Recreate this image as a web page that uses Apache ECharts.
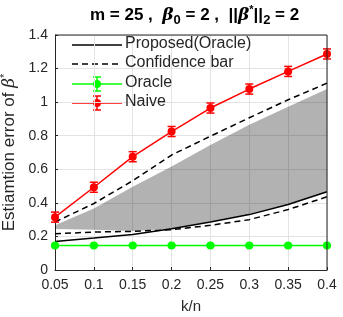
<!DOCTYPE html>
<html><head><meta charset="utf-8">
<script src="https://cdn.jsdelivr.net/npm/echarts@6/dist/echarts.min.js"></script>
<style>html,body{margin:0;padding:0;background:#fff}#c{width:343px;height:317px}</style>
</head><body><div id="c"></div>
<script>
var kn = [0.05, 0.1, 0.15, 0.2, 0.25, 0.3, 0.35, 0.4];
var naive = [0.315, 0.493, 0.675, 0.825, 0.965, 1.078, 1.183, 1.287];
var naiveErr = [0.03, 0.03, 0.03, 0.03, 0.03, 0.03, 0.03, 0.03];
var oracle = [0.146, 0.146, 0.146, 0.146, 0.146, 0.146, 0.146, 0.146];
var oracleErr = [0.005, 0.005, 0.005, 0.005, 0.005, 0.005, 0.005, 0.005];
var proposed = [0.17, 0.19, 0.212, 0.246, 0.286, 0.33, 0.39, 0.466];
var confLow = [0.216, 0.226, 0.23, 0.24, 0.266, 0.3, 0.36, 0.436];
var confHigh = [0.286, 0.396, 0.532, 0.685, 0.797, 0.907, 1.014, 1.113];
var bandLow = [0.244, 0.24, 0.232, 0.246, 0.286, 0.33, 0.39, 0.466];
var bandHigh = [0.266, 0.366, 0.496, 0.616, 0.745, 0.865, 0.972, 1.078];
var legendNames = ['Proposed(Oracle)', 'Confidence bar', 'Oracle', 'Naive'];

function pairs(ys){ return kn.map(function(x,i){ return [x, ys[i]]; }); }
function errData(ys, es){ return kn.map(function(x,i){ return [x, ys[i]-es[i], ys[i]+es[i]]; }); }
function errSeries(ys, es, color){
  return {
    type: 'custom', z: 5,
    data: errData(ys, es),
    renderItem: function(params, api){
      var x = api.value(0);
      var p1 = api.coord([x, api.value(1)]);
      var p2 = api.coord([x, api.value(2)]);
      var w = 4;
      var st = {stroke: color, lineWidth: 1.5};
      return {type: 'group', children: [
        {type: 'line', shape: {x1: p1[0], y1: p1[1], x2: p2[0], y2: p2[1]}, style: st},
        {type: 'line', shape: {x1: p1[0]-w, y1: p1[1], x2: p1[0]+w, y2: p1[1]}, style: st},
        {type: 'line', shape: {x1: p2[0]-w, y1: p2[1], x2: p2[0]+w, y2: p2[1]}, style: st}
      ]};
    }
  };
}

var chart = echarts.init(document.getElementById('c'));
var txt = '#262626';
var legendY = [45, 64, 84, 103];

function legendGroup(y, kind, color){
  var ch = [];
  var x1 = 72, x2 = 122, xm = 97;
  if (kind === 'solid') ch.push({type:'line', shape:{x1:x1,y1:y,x2:x2,y2:y}, style:{stroke:'#000', lineWidth:1.5}});
  if (kind === 'dash') ch.push({type:'line', shape:{x1:x1,y1:y,x2:x2,y2:y}, style:{stroke:'#000', lineWidth:1.5, lineDash:[6,4]}});
  if (kind === 'err') {
    ch.push({type:'line', shape:{x1:x1,y1:y,x2:x2,y2:y}, style:{stroke:color, lineWidth:1.5}});
    ch.push({type:'line', shape:{x1:xm,y1:y-7,x2:xm,y2:y+7}, style:{stroke:color, lineWidth:1.5}});
    ch.push({type:'line', shape:{x1:xm-4,y1:y-7,x2:xm+4,y2:y-7}, style:{stroke:color, lineWidth:1.5}});
    ch.push({type:'line', shape:{x1:xm-4,y1:y+7,x2:xm+4,y2:y+7}, style:{stroke:color, lineWidth:1.5}});
    ch.push({type:'circle', shape:{cx:xm, cy:y, r:4}, style:{fill:color}});
  }
  return ch;
}

var graphics = [].concat(
  legendGroup(legendY[0], 'solid', '#000'),
  legendGroup(legendY[1], 'dash', '#000'),
  legendGroup(legendY[2], 'err', '#00ff00'),
  legendGroup(legendY[3], 'err', '#ff0000')
);

var titles = [{
  text: '{b|m = 25 ,  }{i|β}{sub|0}{b| = 2 ,  ||}{i|β}{sup|*}{b|||}{sub|2}{b| = 2}',
  left: 90, top: 4, padding: 0,
  textStyle: {
    fontSize: 17,
    rich: {
      b: {fontSize: 17, fontWeight: 'bold', color: '#000', fontFamily: 'Liberation Sans'},
      i: {fontSize: 17, fontStyle: 'italic', color: '#000', fontFamily: 'DejaVu Serif'},
      sub: {fontSize: 13, fontWeight: 'bold', color: '#000', fontFamily: 'Liberation Sans', verticalAlign: 'bottom', padding: [10, 0, 0, 0]},
      sup: {fontSize: 11, fontWeight: 'bold', color: '#000', fontFamily: 'Liberation Sans', verticalAlign: 'top', padding: [0, 0, 9, 0]}
    }
  }
}].concat(legendNames.map(function(n, i){
  return {text: n, left: 125, top: legendY[i] - 9, padding: 0,
    textStyle: {fontSize: 16, fontWeight: 'normal', color: txt, fontFamily: 'Liberation Sans'}};
}));

var option = {
  animation: false,
  backgroundColor: '#fff',
  title: titles,
  grid: {left: 55, right: 16, top: 35, bottom: 47, containLabel: false, outerBoundsMode: 'none'},
  xAxis: {
    type: 'value', min: 0.05, max: 0.4, interval: 0.05,
    name: 'k/n', nameLocation: 'middle', nameGap: 29,
    nameTextStyle: {fontSize: 15, color: txt, fontFamily: 'Liberation Sans'},
    axisLine: {show: true, onZero: false, lineStyle: {color: '#262626', width: 1}},
    axisTick: {show: true, inside: true, length: 3, lineStyle: {color: '#262626'}},
    axisLabel: {fontSize: 14, color: txt, fontFamily: 'Liberation Sans', margin: 8,
      formatter: function(v){ return String(parseFloat(v.toFixed(2))); }},
    splitLine: {show: true, lineStyle: {color: '#e3e3e3', width: 1}}
  },
  yAxis: {
    type: 'value', min: 0, max: 1.4, interval: 0.2,
    name: '{t|Estiamtion error of }{i|β}{s|*}', nameLocation: 'middle', nameGap: 22,
    nameTextStyle: {
      fontSize: 17,
      rich: {
        t: {fontSize: 17, color: txt, fontFamily: 'Liberation Sans'},
        i: {fontSize: 17, fontStyle: 'italic', color: txt, fontFamily: 'DejaVu Serif'},
        s: {fontSize: 11, color: txt, fontFamily: 'Liberation Sans', verticalAlign: 'top', padding: [0, 0, 9, 0]}
      }
    },
    axisLine: {show: true, lineStyle: {color: '#262626', width: 1}},
    axisTick: {show: true, inside: true, length: 3, lineStyle: {color: '#262626'}},
    axisLabel: {fontSize: 14, color: txt, fontFamily: 'Liberation Sans', margin: 7,
      formatter: function(v){ return String(parseFloat(v.toFixed(1))); }},
    splitLine: {show: true, lineStyle: {color: '#e3e3e3', width: 1}}
  },
  graphic: graphics.concat([
    {type: 'line', shape: {x1: 55, y1: 35, x2: 327, y2: 35}, style: {stroke: '#262626', lineWidth: 1}, z: 10},
    {type: 'line', shape: {x1: 327, y1: 35, x2: 327, y2: 270}, style: {stroke: '#262626', lineWidth: 1}, z: 10}
  ]),
  series: [
    {
      type: 'custom', z: 1, silent: true,
      data: [[0]],
      renderItem: function(params, api){
        var pts = [];
        for (var i = 0; i < kn.length; i++) pts.push(api.coord([kn[i], bandHigh[i]]));
        for (var j = kn.length - 1; j >= 0; j--) pts.push(api.coord([kn[j], bandLow[j]]));
        return {type: 'polygon', shape: {points: pts}, style: {fill: 'rgba(0,0,0,0.3)'}};
      }
    },
    {type: 'line', data: pairs(confLow), symbol: 'none', lineStyle: {color: '#000', width: 1.5, type: [6, 4]}, z: 3},
    {type: 'line', data: pairs(confHigh), symbol: 'none', lineStyle: {color: '#000', width: 1.5, type: [6, 4]}, z: 3},
    {type: 'line', data: pairs(proposed), symbol: 'none', lineStyle: {color: '#000', width: 1.5}, z: 3},
    {type: 'line', data: pairs(oracle), symbol: 'circle', symbolSize: 8, itemStyle: {color: '#00ff00'}, lineStyle: {color: '#00ff00', width: 1.5}, z: 4},
    errSeries(oracle, oracleErr, '#00ff00'),
    {type: 'line', data: pairs(naive), symbol: 'circle', symbolSize: 8, itemStyle: {color: '#ff0000'}, lineStyle: {color: '#ff0000', width: 1.5}, z: 4},
    errSeries(naive, naiveErr, '#ff0000')
  ]
};
chart.setOption(option);
</script></body></html>
